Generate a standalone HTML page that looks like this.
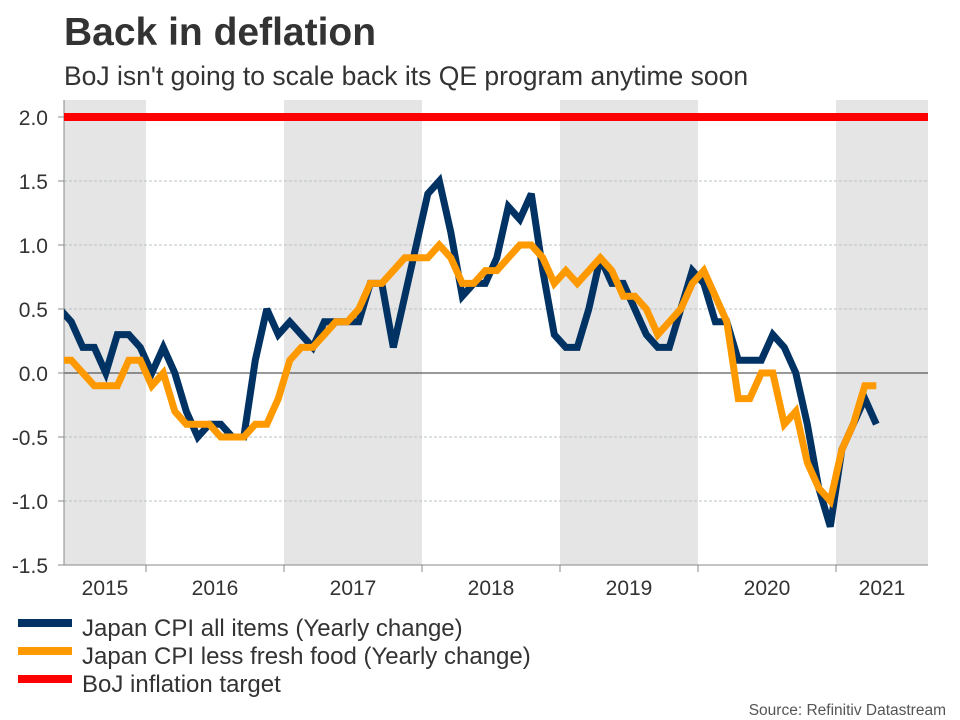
<!DOCTYPE html>
<html><head><meta charset="utf-8"><style>
html,body{margin:0;padding:0;background:#fff;width:960px;height:720px;overflow:hidden;font-family:"Liberation Sans",Arial,sans-serif;}
</style></head><body>
<svg width="960" height="720" viewBox="0 0 960 720" xmlns="http://www.w3.org/2000/svg" font-family="Liberation Sans, Arial, sans-serif">
<text x="64" y="45" font-size="39" font-weight="bold" fill="#333">Back in deflation</text>
<text x="64" y="85" font-size="26.5" fill="#333">BoJ isn't going to scale back its QE program anytime soon</text>
<defs><clipPath id="plotclip"><rect x="64" y="100" width="864" height="465"/></clipPath></defs>
<g id="bands"></g>
<g id="grid"></g>
<g id="yticks"></g>
<g id="xticks"></g>
<g id="series" clip-path="url(#plotclip)"></g>
<g>
<rect x="18" y="619" width="54" height="8" fill="#003263"/>
<text x="82" y="636" font-size="24" fill="#333">Japan CPI all items (Yearly change)</text>
<rect x="18" y="647" width="54" height="8" fill="#ff9900"/>
<text x="82" y="664" font-size="24" fill="#333">Japan CPI less fresh food (Yearly change)</text>
<rect x="18" y="675" width="54" height="8" fill="#ff0000"/>
<text x="82" y="692" font-size="24" fill="#333">BoJ inflation target</text>
</g>
<text x="946" y="715" font-size="15.5" fill="#555" text-anchor="end">Source: Refinitiv Datastream</text>
</svg>
<script>
// Monthly data from May 2015 to Apr 2021
const startMonth = 4; // May 2015 (months since Jan 2015)
const cpiAll = [0.5,0.4,0.2,0.2,0.0,0.3,0.3,0.2,
 0.0,0.2,0.0,-0.3,-0.5,-0.4,-0.4,-0.5,-0.5,0.1,0.5,0.3,
 0.4,0.3,0.2,0.4,0.4,0.4,0.4,0.7,0.7,0.2,0.6,1.0,
 1.4,1.5,1.1,0.6,0.7,0.7,0.9,1.3,1.2,1.4,0.8,0.3,
 0.2,0.2,0.5,0.9,0.7,0.7,0.5,0.3,0.2,0.2,0.5,0.8,
 0.7,0.4,0.4,0.1,0.1,0.1,0.3,0.2,0.0,-0.4,-0.9,-1.2,
 -0.6,-0.4,-0.2,-0.4];
const cpiCore = [0.1,0.1,0.0,-0.1,-0.1,-0.1,0.1,0.1,
 -0.1,0.0,-0.3,-0.4,-0.4,-0.4,-0.5,-0.5,-0.5,-0.4,-0.4,-0.2,
 0.1,0.2,0.2,0.3,0.4,0.4,0.5,0.7,0.7,0.8,0.9,0.9,
 0.9,1.0,0.9,0.7,0.7,0.8,0.8,0.9,1.0,1.0,0.9,0.7,
 0.8,0.7,0.8,0.9,0.8,0.6,0.6,0.5,0.3,0.4,0.5,0.7,
 0.8,0.6,0.4,-0.2,-0.2,0.0,0.0,-0.4,-0.3,-0.7,-0.9,-1.0,
 -0.6,-0.4,-0.1,-0.1];
const bojTarget = 2.0;
const years = ["2015","2016","2017","2018","2019","2020","2021"];
const yTicks = [2.0,1.5,1.0,0.5,0.0,-0.5,-1.0,-1.5];

const NS="http://www.w3.org/2000/svg";
const plotL=64, plotR=928, plotT=100, plotB=565;
const mw=138/12, x0=146-12*mw;
function xM(m){return x0+m*mw;}
function y(v){return 373-v*128;}
function mk(tag,attrs,parent){const e=document.createElementNS(NS,tag);for(const k in attrs)e.setAttribute(k,attrs[k]);document.getElementById(parent).appendChild(e);return e;}

years.forEach((yr,i)=>{
  const a=Math.max(plotL,xM(i*12)), b=Math.min(plotR,xM((i+1)*12));
  if(i%2===0){
    const r=mk('rect',{x:a,y:plotT,width:b-a,height:plotB-plotT,fill:'#e5e5e5'},'bands');
    
    
  }
  const t=mk('text',{x:(a+b)/2,y:595,'font-size':21,fill:'#333','text-anchor':'middle'},'xticks');
  t.textContent=yr;
  
  
  if(i>0){
    const tk=mk('line',{x1:xM(i*12),x2:xM(i*12),y1:plotB,y2:plotB+7,stroke:'#888','stroke-width':1},'xticks');
    
    
  }
});
yTicks.forEach(v=>{
  const yy=y(v);
  if(v!==0 && v!==-1.5){
    const g=mk('line',{x1:plotL,x2:plotR,y1:yy,y2:yy,stroke:'#b8c4c4','stroke-width':1,'stroke-dasharray':'3,2'},'grid');
    
    
  }
  const tk=mk('line',{x1:plotL-6,x2:plotL,y1:yy,y2:yy,stroke:'#888'},'yticks');
  
  
  const t=mk('text',{x:48,y:yy+8,'font-size':21,fill:'#333','text-anchor':'end'},'yticks');
  t.textContent=v.toFixed(1);
  
  
});
const zl=mk('line',{x1:plotL,x2:plotR,y1:y(0),y2:y(0),stroke:'#333','stroke-width':1},'grid');


const ax=mk('line',{x1:plotL,x2:plotL,y1:plotT,y2:plotB,stroke:'#888'},'grid');


const bx=mk('line',{x1:plotL,x2:plotR,y1:plotB,y2:plotB,stroke:'#888'},'grid');



const tl=mk('line',{x1:plotL,x2:plotR,y1:y(bojTarget),y2:y(bojTarget),stroke:'#ff0000','stroke-width':8},'series');


function line(arr,color,name){
  const pts=arr.map((v,i)=>xM(startMonth+i+0.5).toFixed(1)+','+y(v).toFixed(1)).join(' ');
  const p=mk('polyline',{points:pts,fill:'none',stroke:color,'stroke-width':7,'stroke-linejoin':'miter','stroke-miterlimit':3},'series');
  
  
}
line(cpiAll,'#003263','cpi-all-items-line');
line(cpiCore,'#ff9900','cpi-less-fresh-food-line');
</script>
</body></html>
